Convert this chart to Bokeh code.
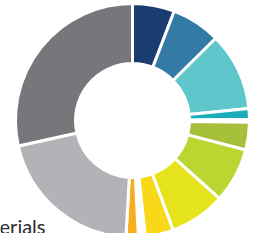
import numpy as np
from bokeh.plotting import figure
from bokeh.models import ColumnDataSource, Range1d
from bokeh.core.properties import value
from bokeh.embed import file_html
from bokeh.resources import INLINE

# Data (percent shares, clockwise from 12 o'clock)
segments = ["S1", "S2", "S3", "S4", "S5", "S6", "S7", "S8", "S9", "S10",
            "S11", "S12", "S13", "S14", "Materials"]
shares = [5.8, 6.8, 10.75, 1.5, 0.4, 3.8, 7.6, 7.7, 3.9, 0.35, 0.3, 0.3, 1.7, 20.6, 28.5]
colors = ["#1A3C6E", "#337BA5", "#5FC6CC", "#1AACB8", "#7E9A3A", "#A6C03C",
          "#BCD631", "#E5E31B", "#F8D818", "#E8785A", "#F4C7B0", "#F4C7B0",
          "#F6AE1F", "#B2B3B6", "#76777B"]
label_text = ["Materials"]

W, H = 249, 233
p = figure(width=W, height=H, output_backend="svg", toolbar_location=None,
           x_range=Range1d(0, W), y_range=Range1d(0, H), min_border=0)
p.axis.visible = False
p.grid.visible = False
p.outline_line_color = None
p.background_fill_color = "white"
p.border_fill_color = "white"

vals = np.array(shares, dtype=float)
frac = vals / vals.sum() * 2 * np.pi
ends = np.cumsum(frac)
starts = ends - frac
src = ColumnDataSource(dict(
    start=np.pi / 2 - starts,
    end=np.pi / 2 - ends,
    color=colors,
    name=segments,
))
cx, cy = 132, H - 120
p.annular_wedge(x=cx, y=cy, inner_radius=57, outer_radius=117,
                start_angle="start", end_angle="end", direction="clock",
                fill_color="color", line_color="white", line_width=3, source=src)

p.text(x=[45], y=[H - 225], text=label_text, text_align="right",
       text_baseline="alphabetic", text_font=value("Lato"),
       text_font_size="20px", text_color="#2B2B2B")

open("out.html", "w").write(file_html(p, INLINE))
